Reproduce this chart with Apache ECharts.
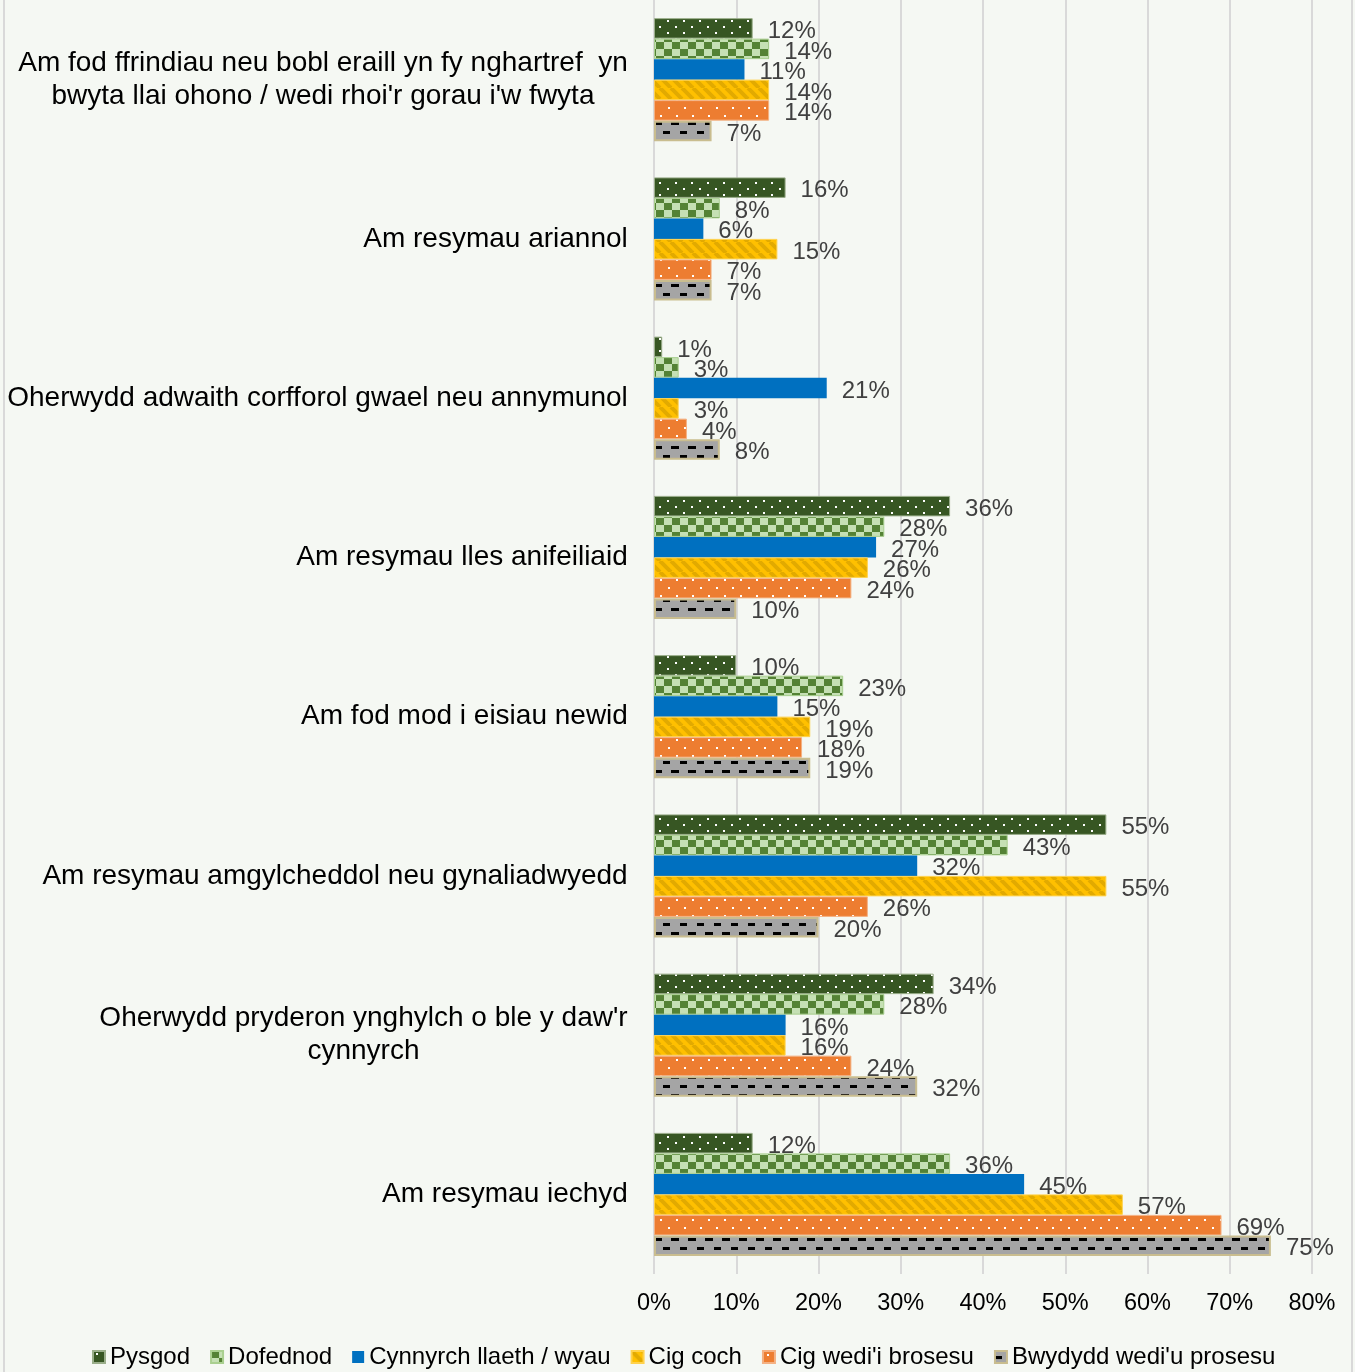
<!DOCTYPE html>
<html><head><meta charset="utf-8">
<script src="https://cdn.jsdelivr.net/npm/echarts@6/dist/echarts.min.js"></script>
<style>html,body{margin:0;padding:0;background:#F5F8F3}#c{width:1355px;height:1372px}</style>
</head><body><div id="c"></div>
<script>
const categories = [
  "Am fod ffrindiau neu bobl eraill yn fy nghartref  yn\nbwyta llai ohono / wedi rhoi'r gorau i'w fwyta",
  "Am resymau ariannol",
  "Oherwydd adwaith corfforol gwael neu annymunol",
  "Am resymau lles anifeiliaid",
  "Am fod mod i eisiau newid",
  "Am resymau amgylcheddol neu gynaliadwyedd",
  "Oherwydd pryderon ynghylch o ble y daw'r\ncynnyrch",
  "Am resymau iechyd"
];
const seriesNames = ["Pysgod","Dofednod","Cynnyrch llaeth / wyau","Cig coch","Cig wedi'i brosesu","Bwydydd wedi'u prosesu"];
const pysgod    = [12,16,1,36,10,55,34,12];
const dofednod  = [14,8,3,28,23,43,28,36];
const cynnyrch  = [11,6,21,27,15,32,16,45];
const cigCoch   = [14,15,3,26,19,55,16,57];
const cigProses = [14,7,4,24,18,26,24,69];
const bwydydd   = [7,7,8,10,19,20,32,75];
const xTickMin = 0, xTickMax = 80, xTickStep = 10;

const FONT = '"Liberation Sans", Arial, sans-serif';

function tile(w,h,bg,draw){
  const c=document.createElement('canvas');c.width=w;c.height=h;
  const x=c.getContext('2d');x.fillStyle=bg;x.fillRect(0,0,w,h);draw(x);return c;
}
const patPysgod = tile(16,12,'#375623',x=>{x.fillStyle='#ffffff';x.fillRect(3,2,2,2);x.fillRect(11,8,2,2);});
const patDofed = tile(16,14,'#548235',x=>{x.fillStyle='#C5E0B4';x.fillRect(8,0,8,7);x.fillRect(0,7,8,7);});
const patCoch = tile(11,11,'#FFC000',x=>{x.strokeStyle='#E2AA00';x.lineWidth=4;
  for(const k of [-11,0,11]){x.beginPath();x.moveTo(k,0);x.lineTo(k+11,11);x.stroke();}});
const patProses = tile(16,16,'#ED7D31',x=>{x.fillStyle='#ffffff';x.fillRect(4,3,2,2);x.fillRect(12,11,2,2);});
const patBwyd = tile(17,18,'#A5A5A5',x=>{x.fillStyle='#000000';x.fillRect(0,5,7,3);x.fillRect(8,14,8,3);});

const styles = [
  {color:{image:patPysgod,repeat:'repeat'}, borderColor:'#9AAE8A', borderWidth:1},
  {color:{image:patDofed,repeat:'repeat'}, borderColor:'#A9CF8F', borderWidth:1},
  {color:'#0070C0', borderColor:'#0070C0', borderWidth:0},
  {color:{image:patCoch,repeat:'repeat'}, borderColor:'#FFD24D', borderWidth:1},
  {color:{image:patProses,repeat:'repeat'}, borderColor:'#F4B183', borderWidth:1},
  {color:{image:patBwyd,repeat:'repeat'}, borderColor:'#C9BD8F', borderWidth:2}
];
const values = [pysgod,dofednod,cynnyrch,cigCoch,cigProses,bwydydd];

// measure for centered multi-line y labels
const YFS = 28;
const mctx = document.createElement('canvas').getContext('2d');
mctx.font = YFS + 'px ' + FONT;
const rich = {};
categories.forEach((c,i)=>{
  const w = Math.ceil(Math.max(...c.split('\n').map(l=>mctx.measureText(l).width)));
  rich['c'+i] = {width:w, align:'center', fontSize:YFS, lineHeight:33, color:'#000', fontFamily:FONT};
});

const chart = echarts.init(document.getElementById('c'), null, {renderer:'canvas'});
chart.setOption({
  backgroundColor:'#F5F8F3',
  animation:false,
  grid:{left:654,right:43,top:0,bottom:98,containLabel:false},
  xAxis:{type:'value',min:xTickMin,max:xTickMax,interval:xTickStep,
    axisLine:{show:false},axisTick:{show:false},
    splitLine:{show:true,lineStyle:{color:'#D9D9D9',width:2}},
    axisLabel:{formatter:'{value}%',fontSize:23.5,color:'#000',fontFamily:FONT,margin:18}},
  yAxis:{type:'category',data:categories,inverse:true,
    axisLine:{show:false},axisTick:{show:false},
    axisLabel:{fontSize:YFS,color:'#000',fontFamily:FONT,margin:26,lineHeight:33,
      formatter:(v,i)=>v.split('\n').map(l=>'{c'+i+'|'+l+'}').join('\n'),
      rich:rich}},
  legend:{data:seriesNames,left:92,top:1345,padding:0,itemWidth:12,itemHeight:12,itemGap:20,
    icon:'rect',textStyle:{fontSize:24,color:'#000',fontFamily:FONT}},
  graphic:[{type:'rect',shape:{x:4,y:-5,width:1348,height:1390},
    style:{fill:'none',stroke:'#D9D9D9',lineWidth:2},silent:true,z:100}],
  series: seriesNames.map((n,k)=>({
    name:n,type:'bar',data:values[k],barWidth:20.5,barGap:'0%',
    itemStyle:styles[k],
    label:{show:true,position:'right',distance:15,offset:[0,3],formatter:'{c}%',
      fontSize:24,color:'#404040',fontFamily:FONT}
  }))
});
</script></body></html>
